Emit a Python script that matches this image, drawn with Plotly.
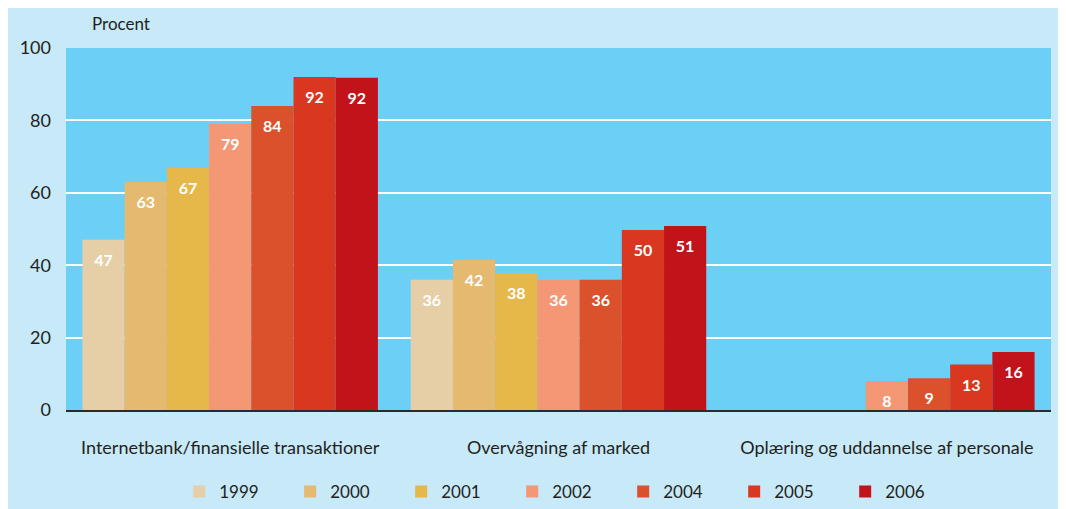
import plotly.graph_objects as go

# data
categories = [
    "Internetbank/finansielle transaktioner",
    "Overvågning af marked",
    "Oplæring og uddannelse af personale",
]
years = ["1999", "2000", "2001", "2002", "2004", "2005", "2006"]
values_1999 = [47, 36, None]
values_2000 = [63, 41.5, None]
values_2001 = [67, 37.8, None]
values_2002 = [79, 36, 8]
values_2004 = [84, 36, 8.8]
values_2005 = [92, 49.7, 12.6]
values_2006 = [91.8, 50.8, 16]
y_ticks = [0, 20, 40, 60, 80, 100]

series = [values_1999, values_2000, values_2001, values_2002,
          values_2004, values_2005, values_2006]
colors = ["#E6CFA7", "#E5B96F", "#E6B84A", "#F49775",
          "#DB512B", "#D9371F", "#C2131B"]

FONT = "Lato"
TEXT = "#231F20"

fig = go.Figure()
for year, vals, col in zip(years, series, colors):
    fig.add_trace(go.Bar(
        name=year,
        x=categories,
        y=vals,
        offsetgroup=year,
        marker=dict(color=col, line=dict(width=0)),
        hoverinfo="skip",
    ))

# value labels a little below the top of each bar
for year, vals in zip(years, series):
    fig.add_trace(go.Scatter(
        x=categories,
        y=vals,
        offsetgroup=year,
        mode="markers+text",
        marker=dict(size=21, opacity=0),
        text=[f"{v:.0f}" if v is not None else "" for v in vals],
        textposition="bottom center",
        textfont=dict(family=FONT, size=16, color="white", weight="bold"),
        showlegend=False,
        hoverinfo="skip",
    ))

fig.add_annotation(
    text="Procent", xref="paper", yref="paper",
    x=0.024, y=1.069, xanchor="left", yanchor="middle",
    showarrow=False, font=dict(family=FONT, size=17, color=TEXT),
)

# the page body adds an 8px white margin, which stands in for the white frame
fig.update_layout(
    width=1058, height=501,
    margin=dict(l=58, r=15, t=40, b=99),
    paper_bgcolor="#C7E9F8",
    plot_bgcolor="#6BCFF6",
    barmode="group",
    bargap=0.1,
    bargroupgap=0,
    scattermode="group",
    scattergap=0.1,
    font=dict(family=FONT, size=17, color=TEXT),
    showlegend=True,
    legend=dict(
        orientation="h",
        xref="container", yref="container",
        x=0.529, xanchor="center",
        y=0.034, yanchor="middle",
        bgcolor="rgba(0,0,0,0)",
        entrywidth=66, entrywidthmode="pixels",
        font=dict(family=FONT, size=17, color=TEXT),
        traceorder="normal",
    ),
)

fig.update_xaxes(
    automargin=False,
    showline=True, linecolor="#2B2B2B", linewidth=2,
    showgrid=False, ticks="", ticklabelstandoff=20,
    tickfont=dict(family=FONT, size=18, color=TEXT),
)
fig.update_yaxes(
    automargin=False,
    range=[0, 100], tickvals=y_ticks,
    showgrid=True, gridcolor="white", gridwidth=2,
    zeroline=False, showline=False, ticks="",
    ticklabelstandoff=14,
    tickfont=dict(family=FONT, size=18, color=TEXT),
)

fig.write_html("out.html")
